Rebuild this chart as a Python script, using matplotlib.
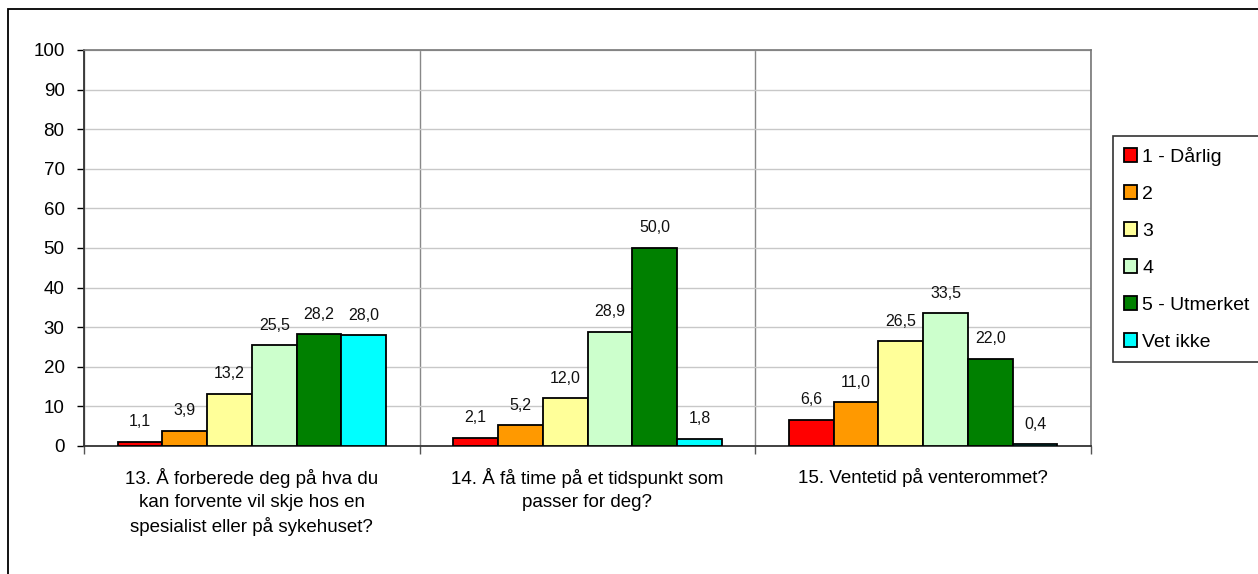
import numpy as np
import matplotlib
matplotlib.use("Agg")
import matplotlib.pyplot as plt
from matplotlib.patches import Rectangle

plt.rcParams['font.family'] = ['Liberation Sans', 'DejaVu Sans']

questions = [
    "13. Å forberede deg på hva du\nkan forvente vil skje hos en\nspesialist eller på sykehuset?",
    "14. Å få time på et tidspunkt som\npasser for deg?",
    "15. Ventetid på venterommet?",
]
series = ["1 - Dårlig", "2", "3", "4", "5 - Utmerket", "Vet ikke"]
values = [
    [1.1, 2.1, 6.6],     # 1 - Dårlig
    [3.9, 5.2, 11.0],    # 2
    [13.2, 12.0, 26.5],  # 3
    [25.5, 28.9, 33.5],  # 4
    [28.2, 50.0, 22.0],  # 5 - Utmerket
    [28.0, 1.8, 0.4],    # Vet ikke
]
colors = ["#FF0000", "#FF9900", "#FFFF99", "#CCFFCC", "#008000", "#00FFFF"]
yticks = list(range(0, 101, 10))

W, H = 1258, 574
fig = plt.figure(figsize=(W / 100, H / 100), dpi=100)
ax = fig.add_axes([84 / W, 1 - 446 / H, (1091 - 84) / W, (446 - 50) / H])

# outer chart frame (only left and top edges fall inside the image)
fig.patches.append(Rectangle((8 / W, -0.5), 2.0, 1.5 - 9 / H, transform=fig.transFigure,
                             fill=False, edgecolor="black", linewidth=1.3, zorder=0))

x = np.arange(len(questions))
n = len(series)
width = 1 / (n + 1.5)
for i, (name, vals, c) in enumerate(zip(series, values, colors)):
    pos = x + (i - (n - 1) / 2) * width
    bars = ax.bar(pos, vals, width, color=c, edgecolor="black", linewidth=1.3,
                  label=name, zorder=3)
    for b, v in zip(bars, vals):
        ax.annotate(f"{v:.1f}".replace(".", ","), (b.get_x() + b.get_width() / 2, v),
                    xytext=(0, 9), textcoords="offset points",
                    ha="center", va="bottom", fontsize=11.5, color="#111111")

ax.set_xlim(-0.5, len(questions) - 0.5)
ax.set_ylim(0, 100)
ax.set_yticks(yticks)
ax.tick_params(axis="y", labelsize=13.5, direction="out", length=5, width=1, pad=9)

# category boundaries as major ticks/gridlines, names as minor labels
ax.set_xticks(np.arange(len(questions) + 1) - 0.5)
ax.set_xticklabels([])
ax.set_xticks(x, minor=True)
ax.set_xticklabels(questions, minor=True, fontsize=13.5, linespacing=1.42)
ax.tick_params(axis="x", which="major", direction="out", length=6, width=1, color="#555555")
ax.tick_params(axis="x", which="minor", length=0, pad=16)

ax.grid(axis="y", color="#C8C8C8", linewidth=1, zorder=0)
ax.grid(axis="x", which="major", color="#888888", linewidth=1, zorder=0)
ax.set_axisbelow(True)

for s in ["top", "right"]:
    ax.spines[s].set_color("#777777")
    ax.spines[s].set_linewidth(1.2)
ax.spines["left"].set_color("#333333")
ax.spines["left"].set_linewidth(1.3)
ax.spines["bottom"].set_color("#333333")
ax.spines["bottom"].set_linewidth(1.3)

leg = fig.legend(loc="upper left", bbox_to_anchor=(1113 / W, 1 - 136 / H),
                 fontsize=14, frameon=True, fancybox=False, edgecolor="black",
                 handlelength=0.7, handleheight=0.7, handletextpad=0.25,
                 labelspacing=1.0, borderpad=0.55, borderaxespad=0)
leg.get_frame().set_linewidth(1.2)

fig.savefig("out.png", dpi=100)
